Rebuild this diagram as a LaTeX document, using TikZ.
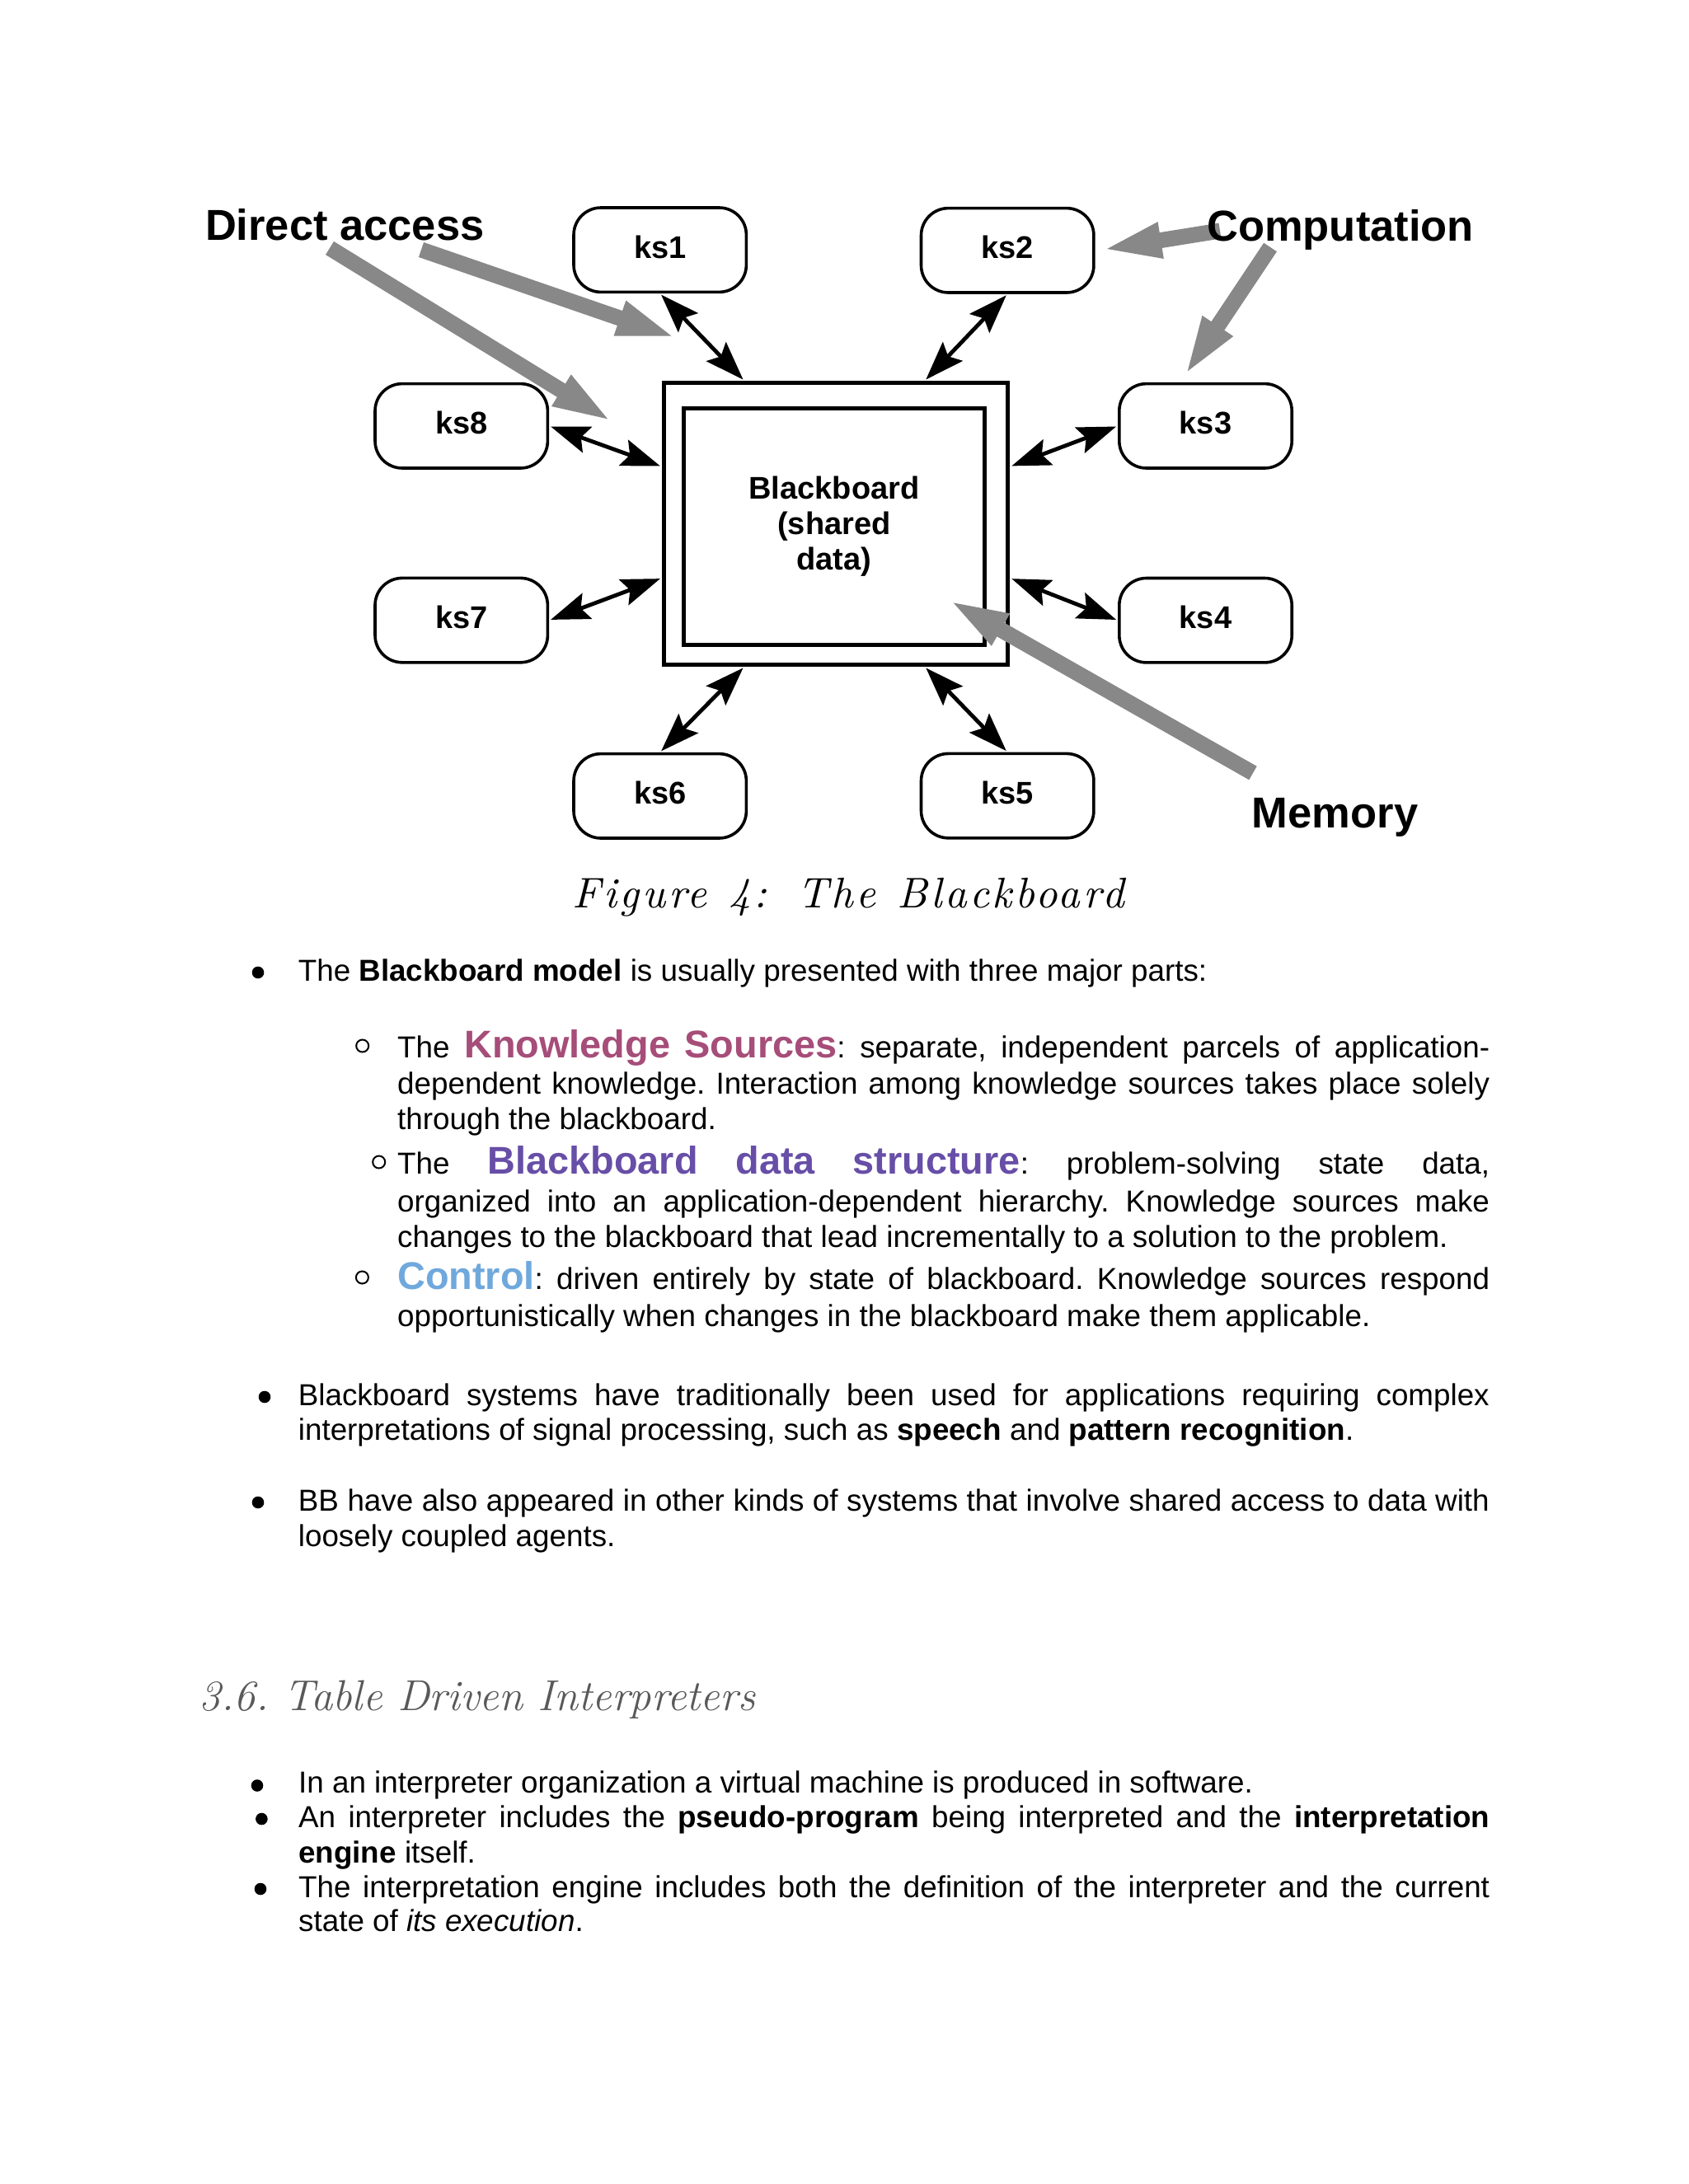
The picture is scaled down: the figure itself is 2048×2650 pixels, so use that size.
\documentclass[tikz,border=0pt]{standalone}
\usepackage{fontspec}
\newfontfamily\arial{Liberation Sans}
\newfontfamily\capfont[LetterSpace=7]{lmroman10-italic.otf}
\usetikzlibrary{arrows.meta,calc}
\definecolor{ksc}{HTML}{A64D79}
\definecolor{bbc}{HTML}{674EA7}
\definecolor{ctc}{HTML}{6FA8DC}
\definecolor{arrgray}{HTML}{888888}
\definecolor{headgray}{HTML}{595959}
\newcommand\bodyfont{\arial\fontsize{36.8pt}{44pt}\selectfont\frenchspacing}
\newcommand\bigfont{\fontsize{46.84pt}{56pt}\selectfont\bfseries}
\newcommand\jline[2]{\hbox to #1{\spaceskip=0.278em plus 1fil minus 0.05em\relax #2}}
\tikzset{
  ksbox/.style={draw, line width=3.6pt, rounded corners=33pt, minimum width=209.4pt,
    minimum height=102.4pt, inner sep=0pt, text height=19.6pt, text depth=0pt,
    font=\arial\bfseries\fontsize{38pt}{40pt}\selectfont},
  bbarrow/.style={line width=4.8pt,
    {Stealth[length=47pt,width=33pt,inset=8pt]}-{Stealth[length=47pt,width=33pt,inset=8pt]},
    shorten <=2pt, shorten >=2pt},
  garrow/.style={color=arrgray, line width=19pt, -{Triangle[length=76pt,width=38pt]}},
  lbl/.style={font=\arial\bfseries\fontsize{52.5pt}{56pt}\selectfont, inner sep=0pt, anchor=base west},
  txt/.style={font=\bodyfont, inner sep=0pt, anchor=base west},
  dot/.style={fill=black},
  ring/.style={draw=black, line width=2pt}
}
\begin{document}
\begin{tikzpicture}[x=1pt,y=-1pt]
\useasboundingbox (0,0) rectangle (2048,2650);
\fill[white] (0,0) rectangle (2048,2650);

% blackboard
\node[draw, line width=5.4pt, minimum width=417.3pt, minimum height=341.6pt, inner sep=0pt] (bb) at (1014.1,635.5) {};
\node[draw, line width=5pt, minimum width=364.8pt, minimum height=287pt, inner sep=0pt, align=center,
  font=\arial\bfseries\fontsize{38pt}{43pt}\selectfont] (bbin) at (1011.9,638.5) {Blackboard\\(shared\\data)};

% knowledge sources
\node[ksbox] (ks1) at (800.7,303.2) {ks1};
\node[ksbox] (ks2) at (1222.2,303.8) {ks2};
\node[ksbox] (ks8) at (559.7,516.8) {ks8};
\node[ksbox] (ks3) at (1462.5,516.8) {ks3};
\node[ksbox] (ks7) at (559.7,752.6) {ks7};
\node[ksbox] (ks4) at (1462.5,752.7) {ks4};
\node[ksbox] (ks6) at (800.7,965.8) {ks6};
\node[ksbox] (ks5) at (1222.2,965.6) {ks5};

% attachment points on the blackboard
\coordinate (bt1) at ($(bb.north west)!0.237!(bb.north east)$);
\coordinate (bt2) at ($(bb.north west)!0.755!(bb.north east)$);
\coordinate (bl1) at ($(bb.north west)!0.30!(bb.south west)$);
\coordinate (bl2) at ($(bb.north west)!0.69!(bb.south west)$);
\coordinate (br1) at ($(bb.north east)!0.30!(bb.south east)$);
\coordinate (br2) at ($(bb.north east)!0.69!(bb.south east)$);
\coordinate (bd1) at ($(bb.south west)!0.237!(bb.south east)$);
\coordinate (bd2) at ($(bb.south west)!0.755!(bb.south east)$);

\draw[bbarrow] (ks1.south) -- (bt1);
\draw[bbarrow] (ks2.south) -- (bt2);
\draw[bbarrow] (ks8.east) -- (bl1);
\draw[bbarrow] (ks7.east) -- (bl2);
\draw[bbarrow] (ks3.west) -- (br1);
\draw[bbarrow] (ks4.west) -- (br2);
\draw[bbarrow] (ks6.north) -- (bd1);
\draw[bbarrow] (ks5.north) -- (bd2);

% gray pointers
\coordinate (gaT) at (400,301);   \coordinate (gaP) at (745.6,513.5);
\coordinate (gbT) at (511,303);   \coordinate (gbP) at (823.8,410.8);
\coordinate (gcT) at (1480,280);  \coordinate (gcP) at (1333.2,303.6);
\coordinate (gdT) at (1541,300);  \coordinate (gdP) at (1435.2,458.7);
\coordinate (geT) at (1520,938);  \coordinate (geP) at (1148,726.5);
\draw[garrow] (gaT) -- (gaP);
\draw[garrow] (gbT) -- (gbP);
\draw[garrow] (gcT) -- (gcP);
\draw[garrow] (gdT) -- (gdP);
\draw[garrow] (geT) -- (geP);

% labels
\node[lbl] (direct) at (248.8,291.2) {Direct access};
\node[lbl] (comp) at (1464,292.5) {Computation};
\node[lbl] (mem) at (1518.7,1004) {Memory};

% caption
\node[inner sep=0pt, anchor=base west, font=\capfont\fontsize{52pt}{60pt}\selectfont] (cap) at (694.5,1101.5)
  {\makebox[669pt][s]{Figure 4: The Blackboard}};

% bullets
\fill[dot] (313,1180) circle (7.3pt);
\draw[ring] (439.7,1269) circle (7.5pt);
\draw[ring] (459.7,1410) circle (7.5pt);
\draw[ring] (439.4,1550) circle (7.5pt);
\fill[dot] (321,1695) circle (7.3pt);
\fill[dot] (313,1823) circle (7.3pt);
\fill[dot] (312,2166.5) circle (7.3pt);
\fill[dot] (317.4,2207) circle (7.3pt);
\fill[dot] (316,2292) circle (7.3pt);

% body text
\node[txt] (b1) at (361.7,1190) {The \textbf{Blackboard model} is usually presented with three major parts:};
\node[txt] (ksa) at (482,1283) {\jline{1325pt}{The {\bigfont\color{ksc}Knowledge Sources}: separate, independent parcels of application-}};
\node[txt] (ksb) at (482,1327.5) {\jline{1325pt}{dependent knowledge. Interaction among knowledge sources takes place solely}};
\node[txt] (ksc) at (482,1370) {through the blackboard.};
\node[txt] (bba) at (482,1424) {\jline{1325pt}{The {\bigfont\color{bbc}Blackboard data structure}: problem-solving state data,}};
\node[txt] (bbb) at (482,1470) {\jline{1325pt}{organized into an application-dependent hierarchy. Knowledge sources make}};
\node[txt] (bbc) at (482,1513.5) {changes to the blackboard that lead incrementally to a solution to the problem.};
\node[txt] (cta) at (482,1564) {\jline{1325pt}{{\bigfont\color{ctc}Control}: driven entirely by state of blackboard. Knowledge sources respond}};
\node[txt] (ctb) at (482,1609) {opportunistically when changes in the blackboard make them applicable.};
\node[txt] (b2a) at (361.7,1705) {\jline{1445pt}{Blackboard systems have traditionally been used for applications requiring complex}};
\node[txt] (b2b) at (361.7,1747.5) {interpretations of signal processing, such as \textbf{speech} and \textbf{pattern recognition}.};
\node[txt] (b3a) at (361.7,1833) {\jline{1445pt}{BB have also appeared in other kinds of systems that involve shared access to data with}};
\node[txt] (b3b) at (361.7,1876) {loosely coupled agents.};

\node[inner sep=0pt, anchor=base west, text=headgray, font=\itshape\fontsize{52.5pt}{60pt}\selectfont\frenchspacing] (h36) at (241.7,2075) {3.6. Table Driven Interpreters};

\node[txt] (i1) at (362,2175.4) {In an interpreter organization a virtual machine is produced in software.};
\node[txt] (i2a) at (362,2217.9) {\jline{1445pt}{An interpreter includes the \textbf{pseudo-program} being interpreted and the \textbf{interpretation}}};
\node[txt] (i2b) at (362,2260.3) {\textbf{engine} itself.};
\node[txt] (i3a) at (362,2302.7) {\jline{1445pt}{The interpretation engine includes both the definition of the interpreter and the current}};
\node[txt] (i3b) at (362,2343) {state of \textit{its execution}.};
\end{tikzpicture}
\end{document}
